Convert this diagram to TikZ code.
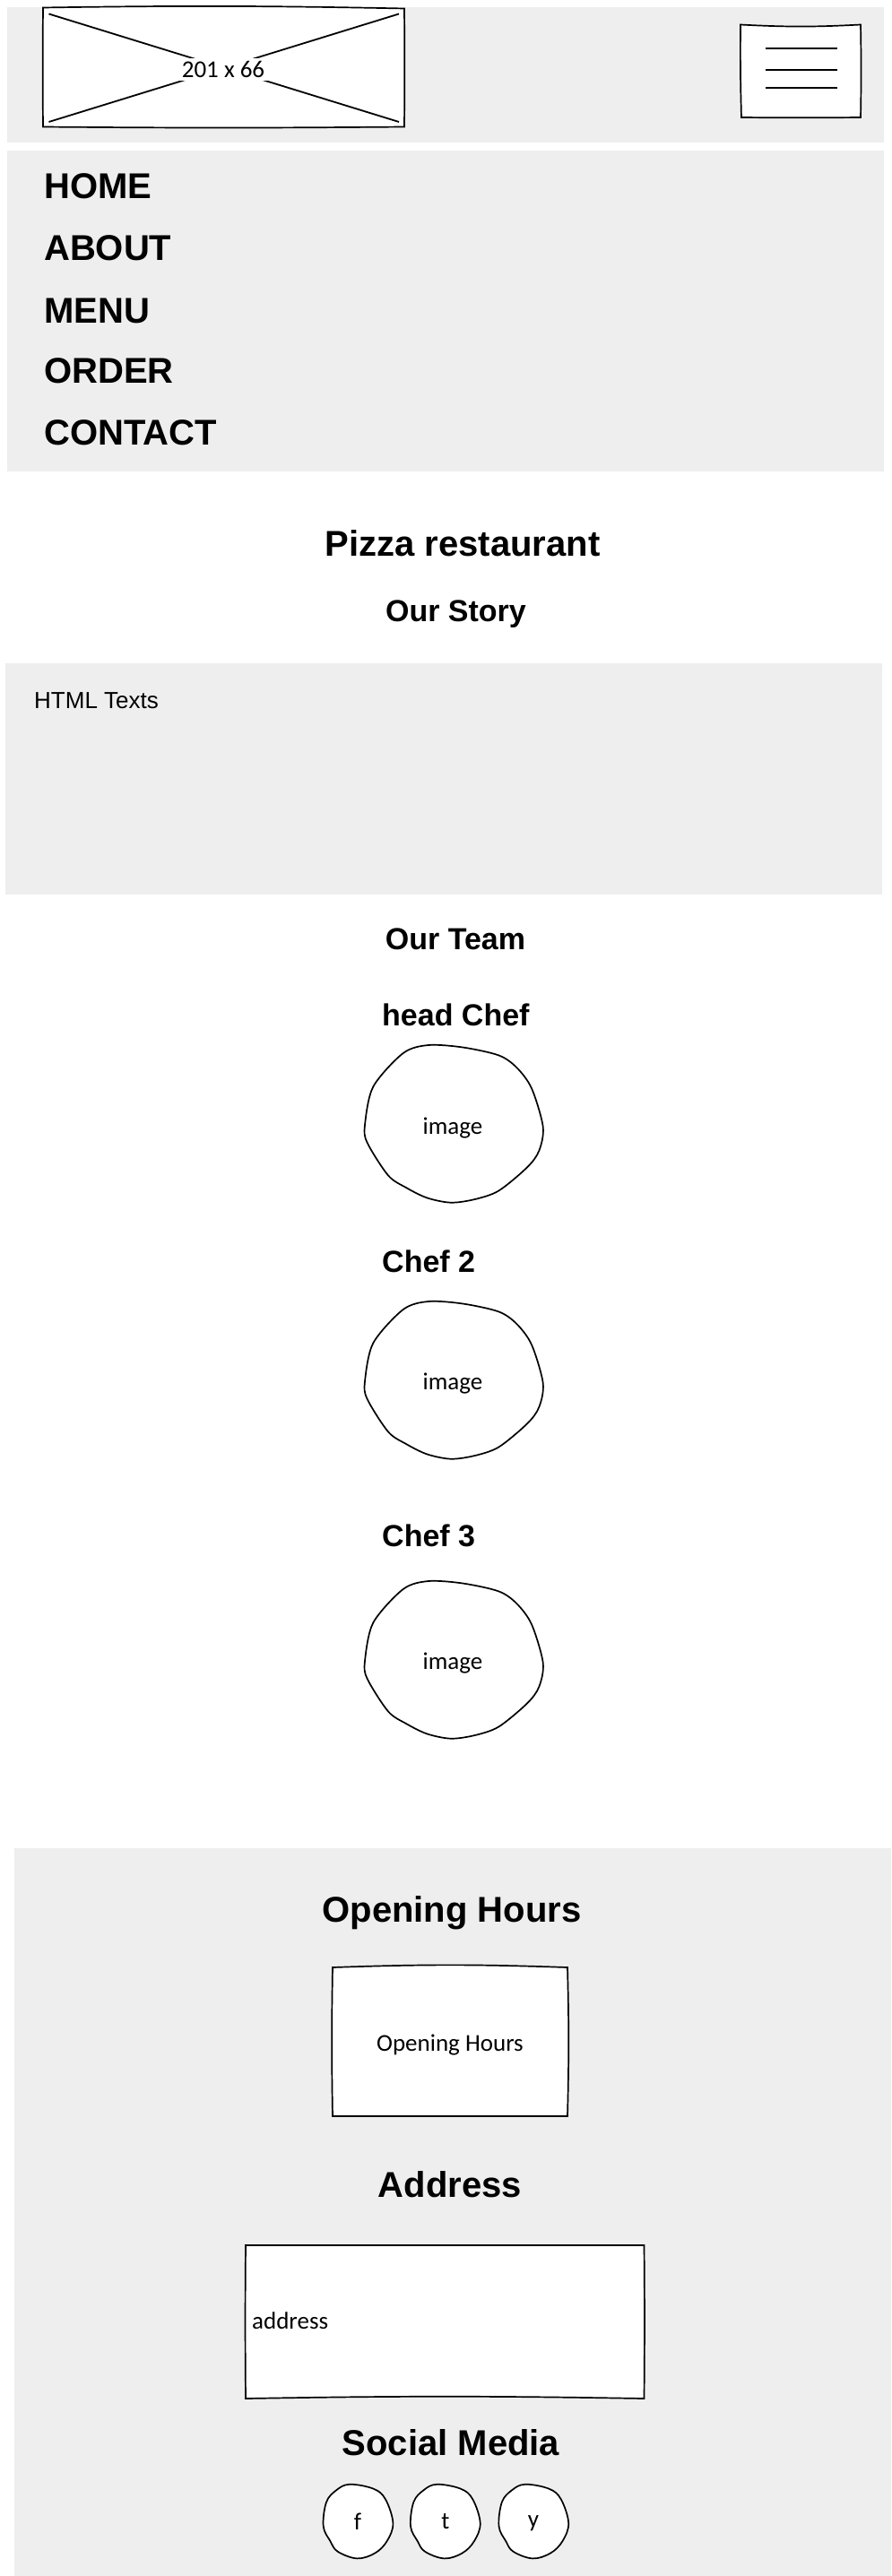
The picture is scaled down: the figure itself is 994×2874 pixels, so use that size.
\documentclass[tikz,border=0pt]{standalone}
\usepackage{fontspec}
\setmainfont{Liberation Sans}
\newfontfamily\sketchfont{Carlito}
\newcommand{\sized}[1]{\fontsize{#1}{#1}\selectfont}
\definecolor{bandgray}{HTML}{EEEEEE}
\tikzset{
  band/.style={fill=bandgray},
  sketch/.style={draw=black,line width=1.7pt,fill=white},
  stroke/.style={draw=black,line width=1.8pt},
  navitem/.style={anchor=base west,inner sep=0,font=\bfseries\sized{40}},
  bighead/.style={anchor=base,inner sep=0,font=\bfseries\sized{40}},
  subhead/.style={anchor=base,inner sep=0,font=\bfseries\sized{34}},
  chefname/.style={anchor=base west,inner sep=0,font=\bfseries\sized{34}},
  hand/.style={inner sep=0,font=\sketchfont\sized{27}},
  blob/.pic={
    \path[sketch] plot[smooth cycle,tension=0.5] coordinates {
      (71,0) (109.3,2.5) (149.3,11.4) (169.3,25) (186,48.2) (198.7,91)
      (194.3,117.9) (181,136.4) (149.3,162.5) (122.7,172) (96,175.7)
      (69.3,170.4) (46,159) (26,145.4) (2.7,109) (0,89.3) (9.3,46.4) (42.7,9)};
  },
  egg/.pic={
    \path[sketch] plot[smooth cycle,tension=0.6] coordinates {
      (29.3,0) (56,5) (69.3,16.7) (77.7,43.3) (71,63.3) (57.7,76.7) (37.7,82.7)
      (16,75) (7.7,63.3) (0,46.7) (3.3,20) (14.3,6.7)};
  },
}
\begin{document}
\begin{tikzpicture}[x=1pt,y=-1pt]
        \useasboundingbox (0,0) rectangle (994,2874);
        % grey bands
        \fill[band] (8,7.6) rectangle (986,159.4);
        \fill[band] (8,168.4) rectangle (986,526);
        \fill[band] (6,740) rectangle (984,998);
        \fill[band] (16,2062) rectangle (994,2874);

        % logo
        \path[sketch] (48,8.5) to[bend left=1] (451,9.5) to[bend left=0.5] (451,141.5)
                to[bend left=0.5] (48,141.5) to[bend left=0.5] (48,8.5) -- cycle;
        \coordinate (lt) at (54.5,15.5);
        \coordinate (rt) at (445,15.5);
        \coordinate (lb) at (54.5,136);
        \coordinate (rb) at (445,136);
        \draw[stroke] (lt) -- (rb);
        \draw[stroke] (rt) -- (lb);
        \node[hand,fill=white,inner xsep=6pt,inner ysep=3pt] (logo) at (249,77.5) {201 x 66};

        % burger button
        \path[sketch] (826,27.5) to[bend right=3] (960,27.5) to[bend left=1] (960,131)
                to[bend left=0.5] (827,131) to[bend left=1] (826,27.5) -- cycle;
        \foreach \y/\name in {53.7/a,77.8/b,97.8/c} {
          \coordinate (bl\name) at (854,\y);
          \coordinate (br\name) at (934,\y);
          \draw[stroke] (bl\name) -- (br\name);
        }

        % nav
        \node[navitem] (home) at (49,222) {HOME};
        \node[navitem] (about) at (49,290) {ABOUT};
        \node[navitem] (menu) at (49,360.5) {MENU};
        \node[navitem] (order) at (49,427) {ORDER};
        \node[navitem] (contact) at (49,496) {CONTACT};

        % story
        \node[bighead] (title) at (516,620) {Pizza restaurant};
        \node[subhead] (story) at (508.5,693.5) {Our Story};
        \node[anchor=base west,inner sep=0,font=\sized{26}] (texts) at (38,790) {HTML Texts};

        % team
        \node[subhead] (team) at (508,1059.5) {Our Team};
        \node[chefname] (head) at (426,1144) {head Chef};
        \pic at (407,1166) {blob};
        \node[hand] (img1) at (505,1258.5) {image};
        \node[chefname] (chef2) at (426,1419.5) {Chef 2};
        \pic at (407,1452) {blob};
        \node[hand] (img2) at (505,1544) {image};
        \node[chefname] (chef3) at (426,1725) {Chef 3};
        \pic at (407,1764) {blob};
        \node[hand] (img3) at (505,1856) {image};

        % footer
        \node[bighead] (hours) at (504,2144) {Opening Hours};
        \path[sketch] (371,2195) to[bend left=2] (633,2195) to[bend left=1.5] (633,2361)
                to[bend left=0] (371,2361) to[bend left=1] (371,2195) -- cycle;
        \node[hand] (hourstxt) at (502,2282) {Opening Hours};
        \node[bighead] (addr) at (502,2451) {Address};
        \path[sketch] (274,2505) -- (718.5,2505) to[bend left=0.5] (718.5,2676)
                to[bend right=1] (274,2676) to[bend left=0.5] (274,2505) -- cycle;
        \node[hand,anchor=west] (addrtxt) at (281,2589) {address};
        \node[bighead] (social) at (503,2739) {Social Media};
        \pic at (360.7,2771.7) {egg};
        \pic at (458,2771.7) {egg};
        \pic at (556.5,2771.7) {egg};
        \node[hand] (fb) at (399,2813) {f};
        \node[hand] (tw) at (497,2813) {t};
        \node[hand] (yt) at (595,2815) {y};
\end{tikzpicture}
\end{document}
